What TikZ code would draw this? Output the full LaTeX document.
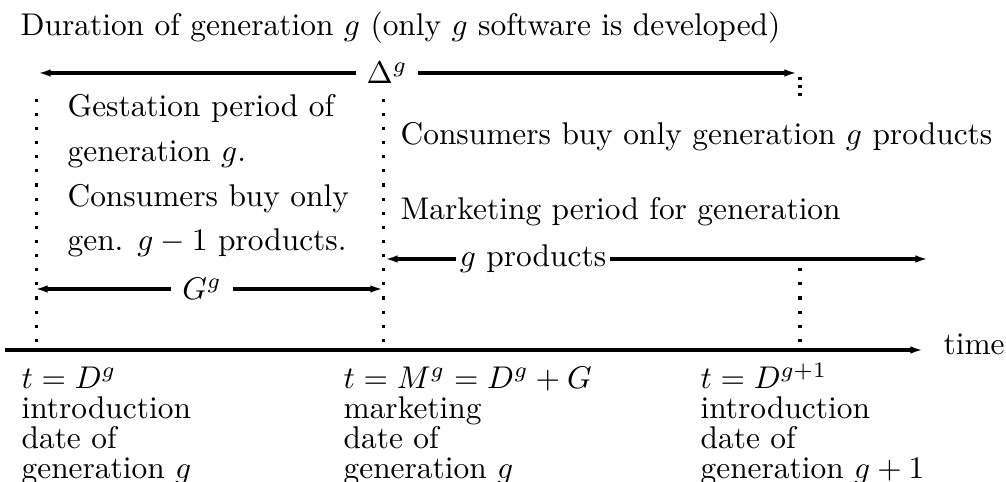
\documentclass[tikz,border=0pt]{standalone}
\usepackage{tikz}
\usetikzlibrary{arrows.meta}

\begin{document}
\begin{tikzpicture}[x=0.3185pt, y=0.3185pt,
        span/.style={line width=1.25pt, -{Latex[length=4pt,width=2.4pt]}},
        marker/.style={line width=1pt, dash pattern=on 1pt off 3.5pt},
        txt/.style={anchor=base west, inner sep=0pt, align=left}]
    \useasboundingbox (0,0) rectangle (1006,482);

    % time axis and the three dates on it
    \coordinate (t0) at (5,132);
    \coordinate (tEnd) at (923,132);
    \coordinate (tD) at (36.5,132);
    \coordinate (tM) at (383.3,132);
    \coordinate (tN) at (800,132);
    \draw[span] (t0) -- (tEnd);
    \node[txt] (time) at (943,127) {time};

    \draw[marker] (tD) ++(0,8) -- ++(0,252);
    \draw[marker] (tM) ++(0,8) -- ++(0,250);
    \draw[marker] (tN) ++(0,8) -- ++(0,76);
    \draw[marker, dash pattern=on 1pt off 1.5pt] (tN) ++(0,273) -- ++(0,-19);

    % duration of generation g
    \node[txt] (title) at (20,446)
        {Duration of generation $g$ (only $g$ software is developed)};
    \coordinate (dL) at (38,409);
    \coordinate (dR) at (797,409);
    \node (delta) at (387,409) {$\Delta^g$};
    \draw[span] (delta) -- (dL);
    \draw[span] (delta) -- (dR);

    % gestation period (base = last line)
    \node[txt, font=\fontsize{10}{14.3}\selectfont] (gest) at (67,231)
        {Gestation period of\\generation $g$.\\Consumers buy only\\gen. $g-1$ products.};
    \coordinate (gL) at (35,193);
    \coordinate (gR) at (383,193);
    \node (glen) at (202,193) {$G^g$};
    \draw[span] (glen) -- (gL);
    \draw[span] (glen) -- (gR);

    % marketing period
    \node[txt] (buy) at (400,337) {Consumers buy only generation $g$ products};
    \node[txt] (mkt) at (400,262) {Marketing period for generation};
    \coordinate (mL) at (385,223);
    \coordinate (mR) at (928,223);
    \node[inner sep=1pt] (gprod) at (533,223) {$g$ products};
    \draw[span] (gprod) -- (mL);
    \draw[span] (gprod) -- (mR);

    % dates below the axis (cut by the lower edge)
    \node[txt, font=\fontsize{10}{9.6}\selectfont] (dateD) at (21,3)
        {$t=D^g$\\introduction\\date of\\generation $g$};
    \node[txt, font=\fontsize{10}{9.6}\selectfont] (dateM) at (343,3)
        {$t=M^g=D^g+G$\\marketing\\date of\\generation $g$};
    \node[txt, font=\fontsize{10}{9.6}\selectfont] (dateN) at (700,3)
        {$t=D^{g+1}$\\introduction\\date of\\generation $g+1$};
\end{tikzpicture}
\end{document}
